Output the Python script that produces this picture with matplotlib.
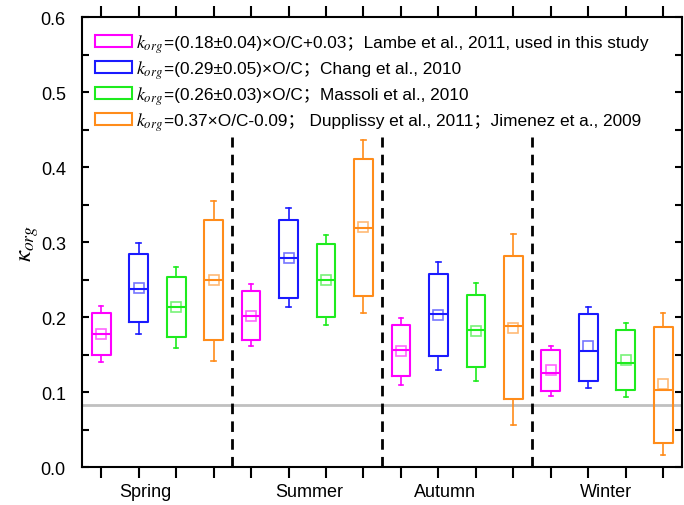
import matplotlib
matplotlib.use("Agg")
import matplotlib.pyplot as plt
from matplotlib.patches import Rectangle
from matplotlib.ticker import MultipleLocator, FormatStrFormatter

plt.rcParams['font.family'] = ['Liberation Sans', 'Noto Sans CJK SC', 'DejaVu Sans']
plt.rcParams['mathtext.fontset'] = 'stix'

seasons = ["Spring", "Summer", "Autumn", "Winter"]
season_label_pos = [2.17, 6.55, 10.17, 14.47]
series_prefix = r"$k_{org}$"
series_names = [
    "=(0.18±0.04)×O/C+0.03；Lambe et al., 2011, used in this study",
    "=(0.29±0.05)×O/C；Chang et al., 2010",
    "=(0.26±0.03)×O/C；Massoli et al., 2010",
    "=0.37×O/C-0.09； Dupplissy et al., 2011；Jimenez et a., 2009",
]
colors = ["#FF00FF", "#1A1AFF", "#1EEB1E", "#FF8C1A"]

# per series: values for Spring, Summer, Autumn, Winter
whislo = [[0.140, 0.162, 0.110, 0.095],
          [0.177, 0.213, 0.129, 0.105],
          [0.159, 0.190, 0.115, 0.094],
          [0.142, 0.205, 0.056, 0.016]]
q1 = [[0.149, 0.170, 0.121, 0.101],
      [0.193, 0.226, 0.148, 0.115],
      [0.173, 0.200, 0.133, 0.103],
      [0.170, 0.228, 0.091, 0.032]]
med = [[0.178, 0.202, 0.156, 0.126],
       [0.238, 0.279, 0.204, 0.155],
       [0.214, 0.249, 0.183, 0.139],
       [0.250, 0.319, 0.188, 0.103]]
mean = [[0.178, 0.202, 0.155, 0.129],
        [0.239, 0.279, 0.203, 0.161],
        [0.214, 0.249, 0.182, 0.143],
        [0.250, 0.320, 0.186, 0.111]]
q3 = [[0.206, 0.235, 0.189, 0.156],
      [0.284, 0.330, 0.257, 0.204],
      [0.254, 0.297, 0.230, 0.183],
      [0.330, 0.411, 0.282, 0.187]]
whishi = [[0.215, 0.244, 0.1995, 0.162],
          [0.299, 0.345, 0.273, 0.214],
          [0.267, 0.310, 0.245, 0.192],
          [0.355, 0.437, 0.311, 0.206]]
ref_line = 0.083

fig = plt.figure(figsize=(6.84, 5.06), dpi=100)
ax = fig.add_axes([0.1206, 0.075, 0.8764, 0.8887])

for s in range(4):
    stats = []
    pos = []
    for k in range(4):
        stats.append(dict(med=med[s][k], q1=q1[s][k], q3=q3[s][k],
                          whislo=whislo[s][k], whishi=whishi[s][k],
                          mean=mean[s][k]))
        pos.append(1 + 4 * k + s)
    c = colors[s]
    ax.bxp(stats, positions=pos, widths=0.5, showmeans=True, showfliers=False,
           capwidths=0.12,
           boxprops=dict(color=c, linewidth=1.5),
           medianprops=dict(color=c, linewidth=1.5),
           whiskerprops=dict(color=c, linewidth=1.2),
           capprops=dict(color=c, linewidth=1.2),
           meanprops=dict(marker='s', markersize=7.5, markerfacecolor='none',
                          markeredgecolor=c, markeredgewidth=1.2, alpha=0.6),
           manage_ticks=False)

for xv in [4.5, 8.5, 12.5]:
    ax.plot([xv, xv], [0, 0.44], color='black', lw=2, linestyle=(0, (3.8, 2.6)), zorder=1)

ax.axhline(ref_line, color='#C0C0C0', lw=2, zorder=0.5)

ax.set_xlim(0.5, 16.5)
ax.set_ylim(0, 0.6)
ax.set_xticks(range(1, 17))
ax.set_xticklabels([])
ax.tick_params(axis='x', which='major', direction='out', length=8, width=1.5,
               top=True, bottom=True)
ax.yaxis.set_major_locator(MultipleLocator(0.1))
ax.yaxis.set_minor_locator(MultipleLocator(0.05))
ax.tick_params(axis='y', which='both', direction='in', length=5, width=1.5,
               left=True, right=True, labelsize=13, pad=12)
ax.yaxis.set_major_formatter(FormatStrFormatter('%.1f'))
for sp in ax.spines.values():
    sp.set_linewidth(1.5)

for name, xp in zip(seasons, season_label_pos):
    ax.text(xp, -0.033, name, ha='center', va='center', fontsize=13,
            clip_on=False)

ax.set_ylabel(r"$\kappa_{org}$", fontsize=18, labelpad=0)

handles = [Rectangle((0, 0), 1, 1, facecolor='white', edgecolor=c, linewidth=1.5) for c in colors]
leg = ax.legend(handles, series_names, loc='upper left', fontsize=12.4, frameon=False,
                handlelength=2.2, handleheight=0.7, handletextpad=1.85,
                labelspacing=0.63, borderaxespad=0.3, bbox_to_anchor=(0.0, 0.988))
for t in leg.get_texts():
    ax.annotate(series_prefix, xy=(0, 0.42), xycoords=t, xytext=(-0.8, 0),
                textcoords='offset points', ha='right', va='center',
                fontsize=13, annotation_clip=False, zorder=6)

fig.savefig("out.png", dpi=100)
